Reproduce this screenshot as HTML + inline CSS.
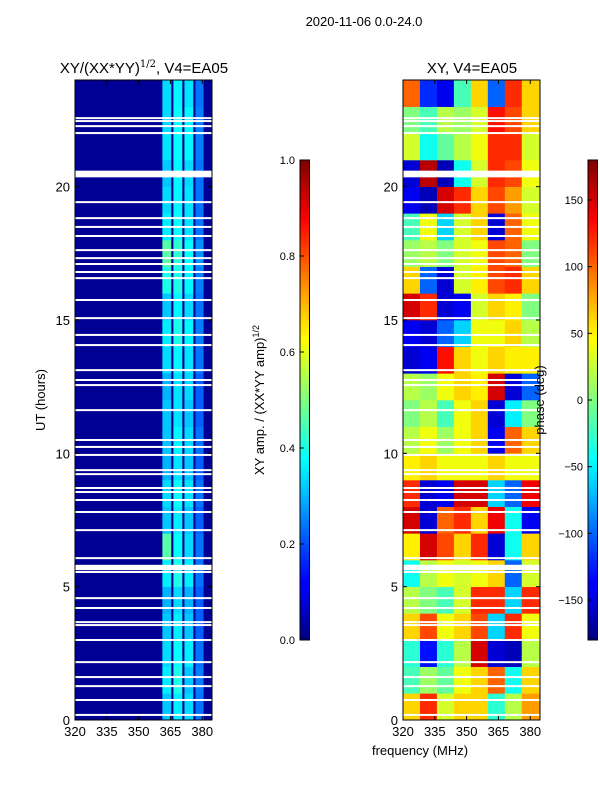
<!DOCTYPE html>
<html><head><meta charset="utf-8"><style>
body{margin:0;background:#fff;}
svg{display:block;font-family:"Liberation Sans","DejaVu Sans",sans-serif;}
</style></head><body>
<svg id="fig" width="600" height="800" viewBox="0 0 600 800" xmlns="http://www.w3.org/2000/svg">
<defs>
<linearGradient id="jet" x1="0" y1="1" x2="0" y2="0">
<stop offset="0" stop-color="#00007f"/><stop offset="0.11" stop-color="#0000ff"/><stop offset="0.125" stop-color="#0000ff"/>
<stop offset="0.34" stop-color="#00dfff"/><stop offset="0.375" stop-color="#00ffff"/><stop offset="0.5" stop-color="#7fff7f"/>
<stop offset="0.625" stop-color="#ffff00"/><stop offset="0.66" stop-color="#ffdf00"/><stop offset="0.875" stop-color="#ff0000"/><stop offset="1" stop-color="#7f0000"/>
</linearGradient>
</defs>
<text x="364" y="26" font-size="13" text-anchor="middle">2020-11-06 0.0-24.0</text>
<text x="144" y="73" font-size="15" text-anchor="middle">XY/(XX*YY)<tspan font-size="10" dy="-6" font-family="DejaVu Serif, serif">1/2</tspan><tspan dy="6">, V4=EA05</tspan></text>
<text x="472" y="73" font-size="15" text-anchor="middle">XY, V4=EA05</text>
<g id="left"></g>
<g id="right"></g>
<g id="axes"></g>
<text transform="translate(45,400) rotate(-90)" font-size="13" text-anchor="middle">UT (hours)</text>
<text x="420" y="755" font-size="13" text-anchor="middle">frequency (MHz)</text>
<rect x="300" y="160" width="9.5" height="480" fill="url(#jet)" stroke="#000" stroke-width="1"/>
<rect x="588" y="160" width="9.5" height="480" fill="url(#jet)" stroke="#000" stroke-width="1"/>
<text transform="translate(264,400) rotate(-90)" font-size="13" text-anchor="middle">XY amp. / (XX*YY amp)<tspan font-size="9" dy="-5">1/2</tspan></text>
<text transform="translate(544,400) rotate(-90)" font-size="13" text-anchor="middle">phase (deg)</text>
<g id="cb"></g>
</svg>
<script>
// ---- data ----
const gapHours = [22.57,22.46,22.27,22.01,19.42,18.82,18.49,18.15,17.62,17.32,17.1,16.8,16.57,15.75,15.07,14.44,14.06,13.12,12.75,12.56,11.62,10.5,10.24,9.94,9.37,9.22,8.7,8.55,8.25,7.8,7.12,6.07,5.55,4.57,4.2,3.67,3.56,3.0,2.17,1.61,1.27,0.75,0.19];
const thickGapStart = [20.35,5.62];
const thickGapEnd = [20.6,5.82];
const stripeLo = [361.2,366.4,371.6,376.8];
const stripeHi = [365.4,370.6,375.8,380.6];
const stripeAmp = [
[0.32,0.36,0.34,0.24],[0.36,0.40,0.32,0.25],[0.34,0.38,0.36,0.24],[0.32,0.36,0.32,0.22],
[0.30,0.34,0.30,0.22],[0.36,0.40,0.36,0.24],[0.46,0.38,0.34,0.24],[0.32,0.36,0.32,0.22],
[0.34,0.38,0.35,0.24],[0.30,0.35,0.32,0.22],[0.32,0.37,0.34,0.24],[0.32,0.35,0.32,0.22],
[0.30,0.35,0.34,0.22],[0.34,0.37,0.35,0.24],[0.36,0.40,0.37,0.25],[0.32,0.37,0.34,0.24],
[0.40,0.40,0.37,0.25],[0.46,0.42,0.38,0.27],[0.36,0.38,0.35,0.24],[0.34,0.37,0.35,0.24],
[0.32,0.37,0.34,0.24],[0.35,0.38,0.37,0.25],[0.34,0.38,0.37,0.25],[0.34,0.37,0.35,0.24]];
const phaseFreqEdges = [320,328,336,344,352,360,368,376,384.6];
// rows: hour 0 (bottom) .. 23 (top)
const phase = [
[60,120,30,60,60,-30,20,80],
[-20,10,-10,40,60,100,-40,60],
[-30,-130,-30,20,150,-150,-160,20],
[60,110,40,60,110,-60,120,40],
[20,0,-20,30,120,120,-60,120],
[-40,20,40,30,40,60,-100,30],
[50,150,110,60,120,-150,-40,60],
[150,-150,100,120,60,140,-40,-140],
[120,-150,-140,150,150,-60,-100,140],
[50,60,40,40,40,60,40,40],
[20,40,10,40,60,-140,100,60],
[0,20,-20,40,60,-150,-50,0],
[20,10,40,60,50,150,-150,-100],
[-150,-140,130,60,40,60,50,50],
[-140,-150,-100,-60,40,40,60,20],
[150,120,-150,-140,30,60,50,0],
[60,-100,-150,30,50,110,120,60],
[10,20,0,30,40,110,100,0],
[-20,40,-60,30,60,-150,100,40],
[-140,-160,150,120,60,110,80,30],
[-150,160,-160,-40,30,120,110,40],
[30,-40,-10,20,40,120,120,30],
[0,-20,20,10,30,130,110,60],
[100,-120,-140,-20,60,-100,120,60]];
const xTicks = [320,335,350,365,380];
const yTicks = [0,5,10,15,20];
const ampTicks = [0.0,0.2,0.4,0.6,0.8,1.0];
const phaseTicks = [-150,-100,-50,0,50,100,150];

// ---- scales ----
const NS="http://www.w3.org/2000/svg";
const Y0=720,Y1=80;
const yS=h=>Y0-(h/24)*(Y0-Y1);
const xL=f=>75+(f-320)/(384.6-320)*137;
const xR=f=>403+(f-320)/(384.6-320)*137;
const cbA=v=>640-v*480;
const cbP=v=>640-(v+180)/360*480;
function jet(t){t=Math.max(0,Math.min(1,t));const c=v=>Math.round(255*Math.max(0,Math.min(1,v)));
return `rgb(${c(1.5-Math.abs(4*t-3))},${c(1.5-Math.abs(4*t-2))},${c(1.5-Math.abs(4*t-1))})`;}
function mk(tag,attrs,parent){const e=document.createElementNS(NS,tag);for(const k in attrs)e.setAttribute(k,attrs[k]);parent.appendChild(e);return e;}
const L=document.getElementById('left'),R=document.getElementById('right'),A=document.getElementById('axes'),CB=document.getElementById('cb');

let bg=mk('rect',{x:75,y:80,width:137,height:640,fill:jet(0.02)},L);


for(let h=0;h<24;h++){for(let s=0;s<4;s++){
 const r=mk('rect',{x:xL(stripeLo[s]),y:yS(h+1),width:xL(stripeHi[s])-xL(stripeLo[s]),height:yS(h)-yS(h+1)+0.3,fill:jet(stripeAmp[h][s])},L);
 
 
}}
for(let h=0;h<24;h++){for(let c=0;c<8;c++){
 const x0=xR(phaseFreqEdges[c]),x1=xR(phaseFreqEdges[c+1]);
 const r=mk('rect',{x:x0,y:yS(h+1),width:x1-x0+0.3,height:yS(h)-yS(h+1)+0.3,fill:jet((phase[h][c]+180)/360)},R);
 
 
}}
[[75,212],[403,540]].forEach(([a,b])=>{
 gapHours.forEach(g=>{const r=mk('rect',{x:a,y:yS(g)-1,width:b-a,height:2,fill:'#fff'},A);
  
  });
 thickGapStart.forEach((g,i)=>{const r=mk('rect',{x:a,y:yS(thickGapEnd[i]),width:b-a,height:yS(g)-yS(thickGapEnd[i]),fill:'#fff'},A);
  
  });
});
[[75,xL],[403,xR]].forEach(([x0,xs],pi)=>{
 const f=mk('rect',{x:x0,y:80,width:137,height:640,fill:'none',stroke:'#000','stroke-width':1},A);
 
 
 xTicks.forEach(t=>{const x=xs(t);
  mk('line',{x1:x,x2:x,y1:720,y2:716,stroke:'#000'},A);mk('line',{x1:x,x2:x,y1:80,y2:84,stroke:'#000'},A);
  const tx=mk('text',{x:x,y:736,'font-size':13,'text-anchor':'middle'},A);tx.textContent=t;
  
  });
 yTicks.forEach(t=>{const y=yS(t);
  mk('line',{x1:x0,x2:x0+4,y1:y,y2:y,stroke:'#000'},A);mk('line',{x1:x0+137,x2:x0+133,y1:y,y2:y,stroke:'#000'},A);
  const tx=mk('text',{x:x0-5,y:y+5,'font-size':13,'text-anchor':'end'},A);tx.textContent=t;
  
  });
});
ampTicks.forEach(t=>{const y=cbA(t);
 mk('line',{x1:300,x2:304,y1:y,y2:y,stroke:'#000'},CB);
 const tx=mk('text',{x:295,y:y+4,'font-size':11,'text-anchor':'end'},CB);tx.textContent=t.toFixed(1);
 
 });
phaseTicks.forEach(t=>{const y=cbP(t);
 mk('line',{x1:588,x2:592,y1:y,y2:y,stroke:'#000'},CB);
 const tx=mk('text',{x:583,y:y+4,'font-size':11,'text-anchor':'end'},CB);tx.textContent=t<0?'\u2212'+(-t):t;
 
 });
</script>
</body></html>
